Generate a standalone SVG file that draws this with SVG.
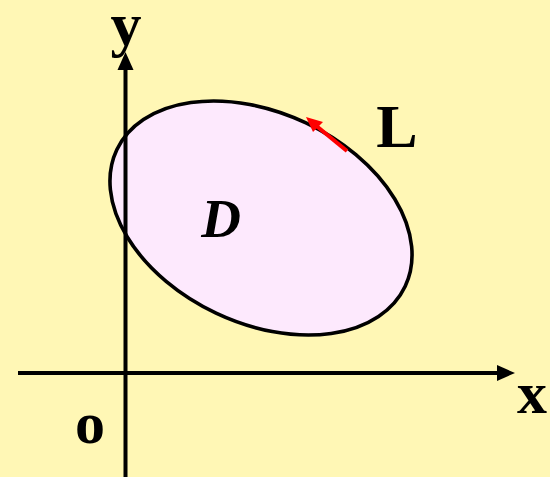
<svg xmlns="http://www.w3.org/2000/svg" width="550" height="477" viewBox="0 0 550 477">
<defs>
<style>
.lbl{font-family:"Liberation Serif","Times New Roman",serif;font-weight:bold;fill:#000;}
.ax{stroke:#000;stroke-width:4;fill:none;}
</style>
</defs>
<rect x="0" y="0" width="550" height="477" fill="#FFF7B5"/>
<g id="region">
<ellipse cx="261" cy="218" rx="159.5" ry="105.2" transform="rotate(25.3 261 218)" fill="#FDE9FD" stroke="#000" stroke-width="3.6"/>
</g>
<g id="connectors">
<line class="ax" x1="18" y1="373" x2="500" y2="373"/>
<polygon points="515,373 497,365 497,381" fill="#000"/>
<line class="ax" x1="125.5" y1="477" x2="125.5" y2="66"/>
<polygon points="125.5,52 117.5,70 133.5,70" fill="#000"/>
<line x1="347" y1="151" x2="314" y2="124" stroke="#FF0000" stroke-width="4"/>
<polygon points="306,117 323,122 313,132" fill="#FF0000"/>
</g>
<g id="labels">
<text class="lbl" x="126" y="45" font-size="62" text-anchor="middle">y</text>
<text class="lbl" x="397" y="147" font-size="62" text-anchor="middle">L</text>
<text class="lbl" x="532" y="413" font-size="60" text-anchor="middle">x</text>
<text class="lbl" x="90" y="443" font-size="60" text-anchor="middle">o</text>
<text class="lbl" x="221" y="237" font-size="55" font-style="italic" text-anchor="middle">D</text>
</g>
</svg>
